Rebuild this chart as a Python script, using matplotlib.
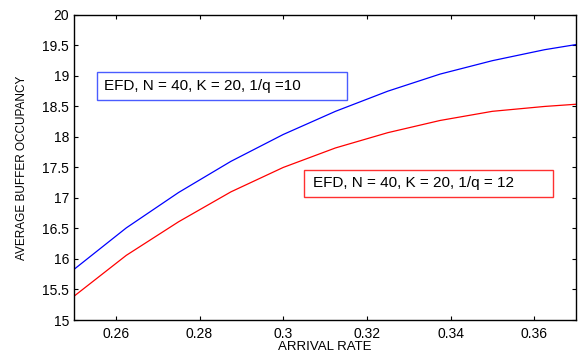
import matplotlib.pyplot as plt
from matplotlib.patches import Rectangle

plt.rcParams['font.family'] = ['Liberation Sans', 'DejaVu Sans']

rate = [0.25, 0.2625, 0.275, 0.2875, 0.3, 0.3125, 0.325, 0.3375, 0.35, 0.3625, 0.375]
occ_q10 = [15.83, 16.51, 17.09, 17.60, 18.04, 18.42, 18.75, 19.03, 19.25, 19.43, 19.57]
occ_q12 = [15.39, 16.06, 16.61, 17.10, 17.50, 17.82, 18.07, 18.27, 18.42, 18.50, 18.56]
label_q10 = 'EFD, N = 40, K = 20, 1/q =10'
label_q12 = 'EFD, N = 40, K = 20, 1/q = 12'

xticks = [0.26, 0.28, 0.3, 0.32, 0.34, 0.36]
yticks = [15, 15.5, 16, 16.5, 17, 17.5, 18, 18.5, 19, 19.5, 20]

fig = plt.figure(figsize=(5.81, 3.56), dpi=100)
ax = fig.add_axes([0.1274, 0.1011, 0.864, 0.857])

ax.plot(rate, occ_q10, color='blue', lw=0.9)
ax.plot(rate, occ_q12, color='red', lw=0.9)

ax.set_xlim(0.25, 0.37)
ax.set_ylim(15, 20)
ax.set_xticks(xticks)
ax.set_xticklabels(['0.26', '0.28', '0.3', '0.32', '0.34', '0.36'])
ax.set_yticks(yticks)
ax.set_yticklabels(['15', '15.5', '16', '16.5', '17', '17.5', '18', '18.5', '19', '19.5', '20'])
ax.tick_params(direction='in', top=True, right=True, labelsize=10, length=3, width=0.8)
ax.tick_params(axis='x', pad=5)
for s in ax.spines.values():
    s.set_linewidth(1.0)

ax.set_xlabel('ARRIVAL RATE', fontsize=9.5, labelpad=0)
ax.set_ylabel('AVERAGE BUFFER OCCUPANCY', fontsize=8.5, labelpad=10)

# text boxes
ax.add_patch(Rectangle((0.046, 0.721), 0.498, 0.092, transform=ax.transAxes,
                       fill=False, edgecolor='#4a5cff', lw=1.0))
ax.text(0.06, 0.767, label_q10, transform=ax.transAxes, fontsize=11, va='center')
ax.add_patch(Rectangle((0.458, 0.403), 0.496, 0.0885, transform=ax.transAxes,
                       fill=False, edgecolor='#ff3030', lw=1.0))
ax.text(0.476, 0.448, label_q12, transform=ax.transAxes, fontsize=11, va='center')

fig.savefig('out.png', dpi=100)
